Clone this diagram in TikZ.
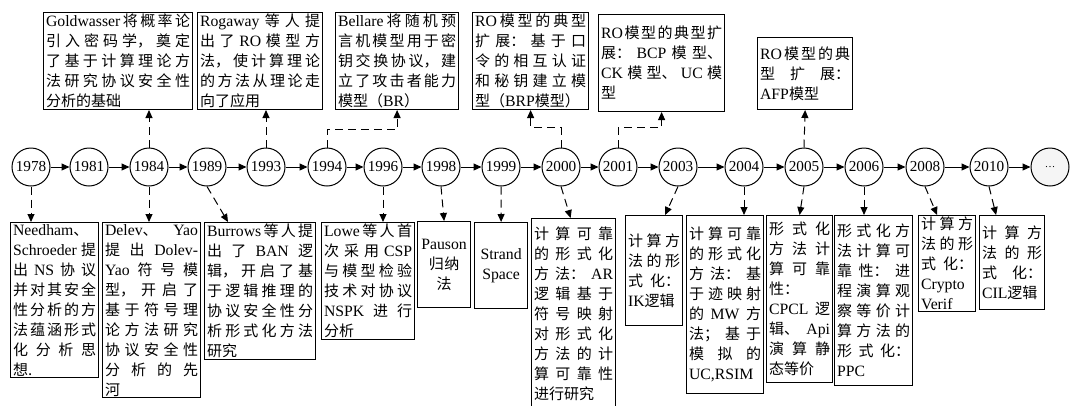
\documentclass[tikz,border=0pt]{standalone}
\usepackage{fontspec}
\setmainfont{Noto Sans CJK SC}
\newfontfamily\en[Scale=1.05]{Liberation Serif}
\usetikzlibrary{arrows.meta}
\XeTeXlinebreaklocale "zh"
\XeTeXlinebreakskip=0pt plus 2pt
\tolerance=10000
\hbadness=10000
\newcommand\EN[1]{\hskip0pt plus 2pt{\en #1}\hskip0pt plus 2pt}
\newcommand\ENa[1]{{\en #1}\hskip0pt plus 2pt}
\begin{document}
\begin{tikzpicture}[x=1pt,y=-1pt,
    year/.style={circle, draw, line width=1pt, minimum size=38pt, inner sep=0pt, font=\en\fontsize{14.5}{14.5}\selectfont},
    event/.style={draw, line width=1.2pt, inner xsep=2.5pt, inner ysep=1.5pt, align=justify, font=\fontsize{15}{20}\selectfont},
    flow/.style={line width=1pt, -{Triangle[length=8pt,width=7pt]}},
    link/.style={line width=1pt, dash pattern=on 8pt off 5pt, -{Triangle[length=8pt,width=7pt]}}]
   \useasboundingbox (0,0) rectangle (1070,405);
   % timeline
   \node[year] (y1978) at (31,167) {1978};
   \node[year] (y1981) at (89,167) {1981};
   \node[year] (y1984) at (149,167) {1984};
   \node[year] (y1989) at (207,167) {1989};
   \node[year] (y1993) at (266,167) {1993};
   \node[year] (y1994) at (327,167) {1994};
   \node[year] (y1996) at (383,167) {1996};
   \node[year] (y1998) at (441,167) {1998};
   \node[year] (y1999) at (501,167) {1999};
   \node[year] (y2000) at (561,167) {2000};
   \node[year] (y2001) at (618,167) {2001};
   \node[year] (y2003) at (678,167) {2003};
   \node[year] (y2004) at (744,167) {2004};
   \node[year] (y2005) at (804,167) {2005};
   \node[year] (y2006) at (864,167) {2006};
   \node[year] (y2008) at (925,167) {2008};
   \node[year] (y2010) at (989,167) {2010};
   \node[year, fill=gray!8] (more) at (1050,167) {\fontsize{10}{10}\selectfont\ldots};
   \foreach \a/\b in {y1978/y1981,y1981/y1984,y1984/y1989,y1989/y1993,y1993/y1994,y1994/y1996,y1996/y1998,y1998/y1999,y1999/y2000,y2000/y2001,y2001/y2003,y2003/y2004,y2004/y2005,y2005/y2006,y2006/y2008,y2008/y2010,y2010/more}
     \draw[flow] (\a) -- (\b);
   % upper boxes
   \node[event, anchor=south west, text width=144pt] (goldwasser) at (43,110) {\ENa{Goldwasser}将概率论\linebreak 引入密码学，奠定\linebreak 了基于计算理论方\linebreak 法研究协议安全性\linebreak 分析的基础};
   \node[event, anchor=south west, text width=120pt] (rogaway) at (197,110) {\ENa{Rogaway}等人提\linebreak 出了\EN{RO}模型方\linebreak 法，使计算理论\linebreak 的方法从理论走\linebreak 向了应用};
   \node[event, anchor=south west, text width=118pt] (bellare) at (335,110) {\ENa{Bellare}将随机预\linebreak 言机模型用于密\linebreak 钥交换协议，建\linebreak 立了攻击者能力\linebreak 模型（\EN{BR}）};
   \node[event, anchor=south west, text width=111pt] (brp) at (472,110) {\ENa{RO}模型的典型\linebreak 扩展：基于口\linebreak 令的相互认证\linebreak 和秘钥建立模\linebreak 型（\EN{BRP}模型）};
   \node[event, anchor=south west, text width=121pt, minimum height=97pt] (bcp) at (598,112) {\ENa{RO}模型的典型扩\linebreak 展：\EN{BCP}模型、\linebreak \EN{CK}模型、\EN{UC}模\linebreak 型};
   \node[event, anchor=south west, text width=90pt, minimum height=72pt] (afp) at (757,110) {\ENa{RO}模型的典\linebreak 型扩展：\linebreak \EN{AFP}模型};
   % lower boxes
   \node[event, anchor=north west, text width=83pt] (needham) at (10,222) {{\en Needham}、\linebreak \EN{Schroeder}提\linebreak 出\EN{NS}协议\linebreak 并对其安全\linebreak 性分析的方\linebreak 法蕴涵形式\linebreak 化分析思\linebreak 想.};
   \node[event, anchor=north west, text width=93pt] (delev) at (102,222) {{\en Delev}、\EN{Yao}\linebreak 提出\EN{Dolev-}\linebreak \EN{Yao}符号模\linebreak 型，开启了\linebreak 基于符号理\linebreak 论方法研究\linebreak 协议安全性\linebreak 分析的先\linebreak 河};
   \node[event, anchor=north west, text width=106pt] (burrows) at (204,222) {\ENa{Burrows}等人提\linebreak 出了\EN{BAN}逻\linebreak 辑，开启了基\linebreak 于逻辑推理的\linebreak 协议安全性分\linebreak 析形式化方法\linebreak 研究};
   \node[event, anchor=north west, text width=88pt] (lowe) at (321,222) {\ENa{Lowe}等人首\linebreak 次采用\EN{CSP}\linebreak 与模型检验\linebreak 技术对协议\linebreak \EN{NSPK}进行\linebreak 分析};
   \node[event, anchor=north west, text width=48pt, minimum height=86pt, align=center] (pauson) at (417,221) {\ENa{Pauson}\\归纳\\法};
   \node[event, anchor=north west, text width=48pt, minimum height=86pt, align=center] (strand) at (474,222) {\ENa{Strand}\\\ENa{Space}};
   \node[event, anchor=north west, text width=79pt, minimum height=190pt] (ar) at (531,218) {计算可靠\linebreak 的形式化\linebreak 方法：\EN{AR}\linebreak 逻辑基于\linebreak 符号映射\linebreak 对形式化\linebreak 方法的计\linebreak 算可靠性\linebreak 进行研究};
   \node[event, anchor=north west, text width=52pt, minimum height=110pt] (ik) at (625,215) {计算方\linebreak 法的形\linebreak 式化：\linebreak \EN{IK}逻辑};
   \node[event, anchor=north west, text width=72pt, minimum height=178pt] (mw) at (686,215) {计算可靠\linebreak 的形式化\linebreak 方法：基\linebreak 于迹映射\linebreak 的\EN{MW}方\linebreak 法；基于\linebreak 模拟的\linebreak \EN{UC,RSIM}};
   \node[event, anchor=north west, text width=61pt, minimum height=167pt] (cpcl) at (766,215) {形式化\linebreak 方法计\linebreak 算可靠\linebreak 性：\linebreak \EN{CPCL}逻\linebreak 辑、\EN{Api}\linebreak 演算静\linebreak 态等价};
   \node[event, anchor=north west, text width=73pt, minimum height=170pt] (ppc) at (834,215) {形式化方\linebreak 法计算可\linebreak 靠性：进\linebreak 程演算观\linebreak 察等价计\linebreak 算方法的\linebreak 形式化：\linebreak \EN{PPC}};
   \node[event, anchor=north west, text width=52pt] (crypto) at (918,215) {计算方\linebreak 法的形\linebreak 式化：\linebreak \EN{Crypto}\linebreak \EN{Verif}};
   \node[event, anchor=north west, text width=60pt, minimum height=94pt] (cil) at (979,215) {计算方\linebreak 法的形\linebreak 式化：\linebreak \EN{CIL}逻辑};
   % links up
   \draw[link] (y1984.north) -- (y1984.north |- goldwasser.south);
   \draw[link] (y1993.north) -- (y1993.north |- rogaway.south);
   \draw[link] (y1994.north) -- ++(0,-18) -| (bellare.south);
   \draw[link] (y2000.north) -- ++(0,-20) -| (brp.south);
   \draw[link] (y2001.north) -- ++(0,-20) -| (bcp.south);
   \draw[link] (y2005.north) -- (afp.south);
   % links down
   \draw[link] (y1978.south) -- (y1978.south |- needham.north);
   \draw[link] (y1984.south) -- (y1984.south |- delev.north);
   \draw[link] (y1989.south) -- ([xshift=24pt]burrows.north west);
   \draw[link] (y1996.south) -- (y1996.south |- lowe.north);
   \draw[link] (y1998.south) -- (pauson.north);
   \draw[link] (y1999.south) -- (strand.north);
   \draw[link] (y2000.south) -- ([xshift=-3pt]ar.north);
   \draw[link] (y2003.south) -- ([xshift=11pt]ik.north);
   \draw[link] (y2004.south) -- (y2004.south |- mw.north);
   \draw[link] (y2005.south) -- (cpcl.north);
   \draw[link] (y2006.south) -- (y2006.south |- ppc.north);
   \draw[link] (y2008.south) -- ([xshift=-10pt]crypto.north);
   \draw[link] (y2010.south) -- ([xshift=-16pt]cil.north);
 \end{tikzpicture}
\end{document}
